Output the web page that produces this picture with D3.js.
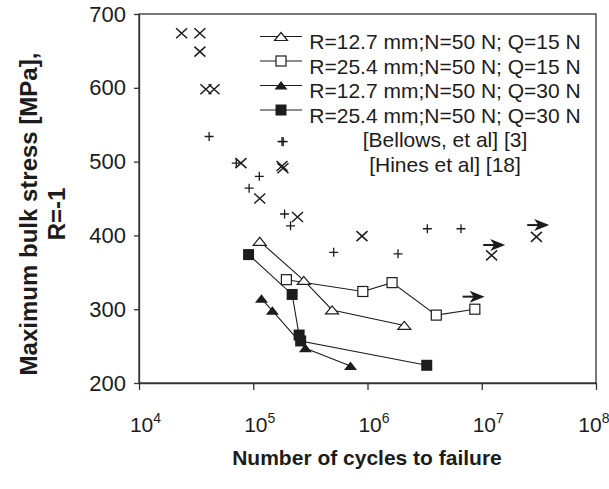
<!DOCTYPE html>
<html>
<head>
<meta charset="utf-8">
<script src="https://cdn.jsdelivr.net/npm/d3@7"></script>
<style>
  body { margin: 0; background: #fff; }
  svg { font-family: "Liberation Sans", Arial, sans-serif; }
</style>
</head>
<body>
<div id="chart"></div>
<script>
// data: [cycles, stress MPa]
const triOpen = [[1.14e5, 392], [2.77e5, 339], [4.9e5, 299], [2.1e6, 278]];
const sqOpen = [[1.95e5, 340], [9.1e5, 324], [1.64e6, 336], [4.0e6, 292], [8.7e6, 300]];
const triFilled = [[1.18e5, 314], [1.47e5, 298], [2.86e5, 247], [7.1e5, 223]];
const sqFilled = [[9.1e4, 374], [2.19e5, 320], [2.52e5, 265], [2.6e5, 257], [3.3e6, 224]];
const bellows = [[4.11e4, 534], [7.1e4, 498], [9.2e4, 464], [1.13e5, 480], [1.83e5, 527], [1.88e5, 429],
  [2.12e5, 413], [5.06e5, 377], [1.85e6, 375], [3.34e6, 409], [6.58e6, 409]];
const hines = [[2.36e4, 674], [3.41e4, 674], [3.41e4, 649], [3.85e4, 598], [4.54e4, 598], [7.8e4, 498],
  [1.14e5, 450], [1.82e5, 491], [2.44e5, 425], [8.95e5, 399], [1.22e7, 373], [3.01e7, 398]];
const runouts = [[6.8e6, 317], [1.03e7, 387], [2.5e7, 414]];

const legendLabels = [
  "R=12.7 mm;N=50 N; Q=15 N",
  "R=25.4 mm;N=50 N; Q=15 N",
  "R=12.7 mm;N=50 N; Q=30 N",
  "R=25.4 mm;N=50 N; Q=30 N",
  "[Bellows, et al] [3]",
  "[Hines et al] [18]"
];
const xTicks = [1e4, 1e5, 1e6, 1e7, 1e8];
const yTicks = [200, 300, 400, 500, 600, 700];

const margin = {top: 14, right: 13, bottom: 106, left: 139},
    width = 609 - margin.left - margin.right,
    height = 489 - margin.top - margin.bottom;

const ink = "#1c1c1c";

const svg = d3.select("#chart")
  .append("svg")
    .attr("width", 609)
    .attr("height", 489);

const g = svg.append("g")
    .attr("transform", `translate(${margin.left},${margin.top})`);

const x = d3.scaleLog().domain([1e4, 1e8]).range([0, width]);
const y = d3.scaleLinear().domain([200, 700]).range([height, 0]);

// frame
g.append("rect")
  .attr("width", width).attr("height", height)
  .attr("fill", "none").attr("stroke", "#333").attr("stroke-width", 1.3);

// y axis
const yAxis = g.append("g")
  .call(d3.axisLeft(y).tickValues(yTicks).tickSize(5).tickSizeOuter(0).tickPadding(8));
yAxis.selectAll("text").attr("font-size", 22).attr("fill", ink).attr("font-family", "Liberation Sans, Arial");

// x axis
const xAxis = g.append("g")
  .attr("transform", `translate(0,${height})`)
  .call(d3.axisBottom(x).tickValues(xTicks).tickSize(7).tickSizeOuter(0));
xAxis.selectAll("text").each(function(d, i) {
  const t = d3.select(this);
  t.text(null).attr("y", 49).attr("dy", 0).attr("fill", ink).attr("font-family", "Liberation Sans, Arial");
  // keep the last label inside the page
  if (i == xTicks.length - 1) t.attr("text-anchor", "end").attr("x", 13);
  else t.attr("x", 6);
  t.append("tspan").attr("font-size", 21).text("10");
  t.append("tspan").attr("font-size", 14).attr("dy", -9).text(Math.round(Math.log10(d)));
});
svg.selectAll(".domain, .tick line").attr("stroke", "#333").attr("stroke-width", 1.3);

// marker shapes
function marker(sel, type) {
  if (type == "triOpen") {
    sel.append("path").attr("d", "M-6.5,4L0,-4L6.5,4Z").attr("fill", "#fff").attr("stroke", ink).attr("stroke-width", 1.2);
  } else if (type == "triFilled") {
    sel.append("path").attr("d", "M-6.5,4L0,-4.5L6.5,4Z").attr("fill", ink);
  } else if (type == "sqOpen") {
    sel.append("rect").attr("x", -5).attr("y", -5).attr("width", 10).attr("height", 10)
      .attr("fill", "#fff").attr("stroke", ink).attr("stroke-width", 1.2);
  } else if (type == "sqFilled") {
    sel.append("rect").attr("x", -5.5).attr("y", -5.5).attr("width", 11).attr("height", 11).attr("fill", ink);
  } else if (type == "plus") {
    sel.append("path").attr("d", "M-4.5,0H4.5M0,-4.5V4.5").attr("stroke", ink).attr("stroke-width", 1.3);
  } else if (type == "cross") {
    sel.append("path").attr("d", "M-5.5,-5L5.5,5M-5.5,5L5.5,-5").attr("stroke", ink).attr("stroke-width", 1.5);
  } else if (type == "arrow") {
    sel.append("path").attr("d", "M0,0H14").attr("stroke", ink).attr("stroke-width", 2);
    sel.append("path").attr("d", "M22,0L7,-6L11,0L7,6Z").attr("fill", ink);
  }
}

const line = d3.line().x(d => x(d[0])).y(d => y(d[1]));

const series = [
  {data: triOpen, type: "triOpen"},
  {data: sqOpen, type: "sqOpen"},
  {data: triFilled, type: "triFilled"},
  {data: sqFilled, type: "sqFilled"}
];

series.forEach(s => {
  g.append("path")
    .datum(s.data)
    .attr("d", line)
    .attr("fill", "none")
    .attr("stroke", ink)
    .attr("stroke-width", 1.1);
});

const scatter = [
  {data: bellows, type: "plus"},
  {data: hines, type: "cross"},
  {data: runouts, type: "arrow"}
];

series.concat(scatter).forEach(s => {
  g.append("g").selectAll("g")
    .data(s.data)
    .join("g")
      .attr("transform", d => `translate(${x(d[0])},${y(d[1])})`)
      .each(function() { marker(d3.select(this), s.type); });
});

// legend
const legendTypes = ["triOpen", "sqOpen", "triFilled", "sqFilled", "plus", "cross"];
const legend = svg.append("g");
legendLabels.forEach((label, i) => {
  const cy = 41.5 + i * 24.5;
  const row = legend.append("g");
  if (i < 4) {
    row.append("line").attr("x1", 260).attr("x2", 302).attr("y1", cy - 5).attr("y2", cy - 5)
      .attr("stroke", ink).attr("stroke-width", 1.2);
    row.append("g").attr("transform", `translate(281,${cy - 5})`).call(marker, legendTypes[i]);
  } else {
    row.append("g").attr("transform", `translate(282,${cy + 2})`).call(marker, legendTypes[i]);
  }
  row.append("text")
    .attr("x", 445).attr("y", cy + 7.5)
    .attr("text-anchor", "middle")
    .attr("font-size", 21)
    .attr("fill", ink)
    .text(label);
});

// axis titles
svg.append("text")
  .attr("x", 367).attr("y", 465)
  .attr("text-anchor", "middle")
  .attr("font-size", 21)
  .attr("font-weight", "bold")
  .attr("fill", ink)
  .text("Number of cycles to failure");

const yTitle = svg.append("text")
  .attr("transform", "translate(0,214) rotate(-90)")
  .attr("text-anchor", "middle")
  .attr("font-size", 24)
  .attr("font-weight", "bold")
  .attr("fill", ink);
yTitle.append("tspan").attr("x", 0).attr("y", 37).text("Maximum bulk stress [MPa],");
yTitle.append("tspan").attr("x", 0).attr("y", 65).text("R=-1");
</script>
</body>
</html>
